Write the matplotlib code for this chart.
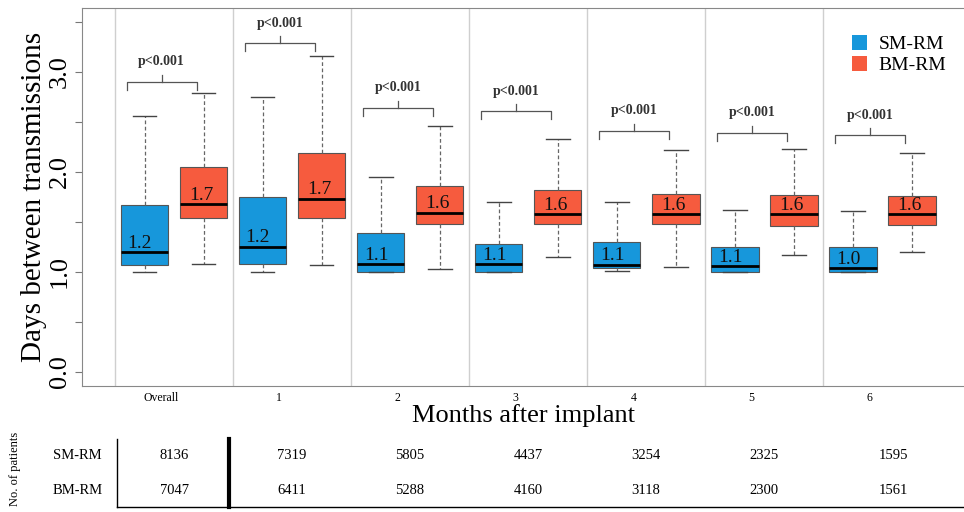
import matplotlib
matplotlib.use("Agg")
import matplotlib.pyplot as plt
from matplotlib.patches import Patch
import numpy as np

groups = ["Overall", "1", "2", "3", "4", "5", "6"]

sm_whislo = [1.00, 1.00, 1.00, 1.00, 1.01, 1.00, 1.00]
sm_q1 = [1.07, 1.08, 1.00, 1.00, 1.04, 1.00, 1.00]
sm_med = [1.20, 1.25, 1.08, 1.08, 1.07, 1.06, 1.04]
sm_q3 = [1.67, 1.75, 1.39, 1.28, 1.30, 1.25, 1.25]
sm_whishi = [2.56, 2.75, 1.95, 1.70, 1.70, 1.62, 1.61]
sm_labels = ["1.2", "1.2", "1.1", "1.1", "1.1", "1.1", "1.0"]

bm_whislo = [1.08, 1.07, 1.03, 1.15, 1.05, 1.17, 1.20]
bm_q1 = [1.54, 1.54, 1.48, 1.48, 1.48, 1.46, 1.47]
bm_med = [1.68, 1.73, 1.59, 1.58, 1.58, 1.58, 1.58]
bm_q3 = [2.05, 2.19, 1.86, 1.82, 1.78, 1.77, 1.76]
bm_whishi = [2.79, 3.16, 2.46, 2.33, 2.22, 2.23, 2.19]
bm_labels = ["1.7", "1.7", "1.6", "1.6", "1.6", "1.6", "1.6"]

bracket_y = [2.90, 3.29, 2.64, 2.61, 2.41, 2.39, 2.37]
p_text = "p<0.001"

sm_n = [8136, 7319, 5805, 4437, 3254, 2325, 1595]
bm_n = [7047, 6411, 5288, 4160, 3118, 2300, 1561]

blue = "#1797DB"
red = "#F65B3E"
serif = ["Liberation Serif", "DejaVu Serif"]
plt.rcParams["font.family"] = serif

fig = plt.figure(figsize=(9.64, 5.12), dpi=100)
ax = fig.add_axes([82 / 964, 126 / 512, 1 - 82 / 964, 378 / 512])

x = np.arange(len(groups))


def make_stats(lo, q1, med, q3, hi):
    return [dict(whislo=a, q1=b, med=c, q3=d, whishi=e, fliers=[])
            for a, b, c, d, e in zip(lo, q1, med, q3, hi)]


common = dict(widths=0.4, patch_artist=True, showfliers=False, capwidths=0.2,
              medianprops=dict(color="black", lw=2),
              whiskerprops=dict(color="#666666", lw=0.9, ls=(0, (3, 2))),
              capprops=dict(color="#444444", lw=1.0))
b1 = ax.bxp(make_stats(sm_whislo, sm_q1, sm_med, sm_q3, sm_whishi), positions=x - 0.25,
            boxprops=dict(facecolor=blue, edgecolor="#555555", lw=0.8), **common)
b2 = ax.bxp(make_stats(bm_whislo, bm_q1, bm_med, bm_q3, bm_whishi), positions=x + 0.25,
            boxprops=dict(facecolor=red, edgecolor="#555555", lw=0.8), **common)

for i in range(len(groups)):
    ax.text(x[i] - 0.29, sm_med[i] + 0.005, sm_labels[i], ha="center", va="bottom",
            fontsize=14, color="#111111")
    ax.text(x[i] + 0.23, bm_med[i] + 0.005, bm_labels[i], ha="center", va="bottom",
            fontsize=14, color="#111111")
    # bracket
    yb = bracket_y[i]
    xl, xr, xm = x[i] - 0.40, x[i] + 0.19, x[i] - 0.105
    ax.plot([xl, xl, xr, xr], [yb - 0.08, yb, yb, yb - 0.08], color="#555555", lw=0.9)
    ax.plot([xm, xm], [yb, yb + 0.07], color="#555555", lw=0.9)
    ax.text(xm, yb + 0.2, p_text, ha="center", va="center", fontsize=10,
            fontweight="bold", color="#333333")

for s in np.arange(-0.5, len(groups) - 1, 1.0):
    ax.axvline(s, color="#cfcfcf", lw=1, zorder=0)

ax.set_xlim(-0.78, 6.69)
ax.set_ylim(-0.14, 3.64)
ax.set_yticks(np.arange(0, 3.6, 0.5))
ax.set_yticklabels(["0.0", "", "1.0", "", "2.0", "", "3.0", ""], rotation=90,
                   va="center", fontsize=19)
ax.tick_params(axis="y", length=5, color="#777777", pad=3)
ax.set_xticks(x - 0.11)
ax.set_xticklabels(groups, fontsize=8.5)
ax.tick_params(axis="x", length=0, pad=4)
for sp in ["left", "bottom", "top"]:
    ax.spines[sp].set_color("#888888")
ax.spines["right"].set_visible(False)

ax.set_ylabel("Days between transmissions", fontsize=21, labelpad=1)
ax.set_xlabel("Months after implant", fontsize=19)
ax.xaxis.set_label_coords(0.5, -0.048)

ax.legend(handles=[Patch(facecolor=blue, label="SM-RM"), Patch(facecolor=red, label="BM-RM")],
          loc="upper right", bbox_to_anchor=(1.0, 0.975), frameon=False, fontsize=14,
          handlelength=0.8, handleheight=0.8, handletextpad=0.6, labelspacing=0.15)

# patient numbers table
tax = fig.add_axes([0, 0, 1, 82 / 512])
tax.set_xlim(-174 / 118, 790 / 118)
tax.set_ylim(-0.6, 1.74)
tax.axis("off")
for i in range(len(groups)):
    xp = x[i] + (0.1 if i == len(groups) - 1 else 0)
    tax.text(xp, 1, str(sm_n[i]), ha="center", va="center", fontsize=10.5)
    tax.text(xp, 0, str(bm_n[i]), ha="center", va="center", fontsize=10.5)
tax.text(-0.82, 1, "SM-RM", ha="center", va="center", fontsize=10.5)
tax.text(-0.82, 0, "BM-RM", ha="center", va="center", fontsize=10.5)
tax.text(-1.35, 0.62, "No. of patients", ha="center", va="center", rotation=90, fontsize=9)
tax.plot([-0.48, -0.48], [-0.46, 1.49], color="black", lw=1)
tax.plot([0.47, 0.47], [-0.46, 1.49], color="black", lw=3)
tax.plot([-0.48, 6.7], [-0.46, -0.46], color="black", lw=1)

fig.savefig("out.png", dpi=100)
